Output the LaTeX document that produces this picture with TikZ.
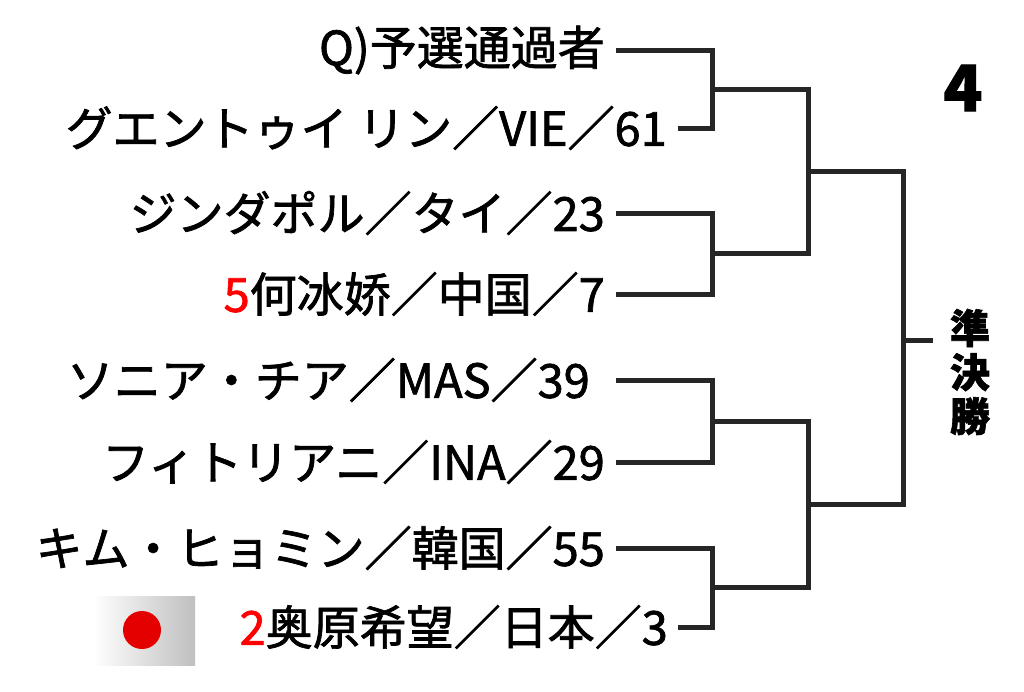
\documentclass[tikz,border=0pt]{standalone}
\usepackage{fontspec}
\setmainfont{Noto Sans CJK JP}[FakeBold=1.5]
\begin{document}
\begin{tikzpicture}[x=1pt,y=-1pt,
  br/.style={line width=5pt,color=black!85,line cap=rect},
  nm/.style={anchor=east,inner sep=0pt,font=\fontsize{47}{50}\selectfont}]
\useasboundingbox (0,0) rectangle (1024,691);
\fill[white] (0,0) rectangle (1024,691);
\node[nm] (p1) at (605,50) {Q)予選通過者};
\node[nm] (p2) at (667,128) {グエントゥイ リン／VIE／61};
\node[nm] (p3) at (605,213) {ジンダポル／タイ／23};
\node[nm] (p4) at (605,294) {\textcolor{red}{5}何冰娇／中国／7};
\node[nm] (p5) at (590,380) {ソニア・チア／MAS／39};
\node[nm] (p6) at (605,462) {フィトリアニ／INA／29};
\node[nm] (p7) at (605,548) {キム・ヒョミン／韓国／55};
\node[nm] (p8) at (668,627) {\textcolor{red}{2}奥原希望／日本／3};
\shade[left color=white,right color=black!25] (93,596) rectangle (195,665);
\fill[red!90!black] (142,630) circle (19);
\node[font=\fontsize{64}{66}\selectfont\bfseries] (four) at (963,88) {4};
\node[font=\fontsize{40}{44}\selectfont\bfseries,align=center,inner sep=0pt] (sf) at (970,372) {準\\決\\勝};
\draw[br] (618,50) -- (712,50) -- (712,128) -- (680,128);
\draw[br] (618,213) -- (712,213) -- (712,294) -- (618,294);
\draw[br] (618,380) -- (712,380) -- (712,462) -- (618,462);
\draw[br] (618,548) -- (712,548) -- (712,627) -- (680,627);
\draw[br] (712,89) -- (808,89) -- (808,253) -- (712,253);
\draw[br] (712,421) -- (808,421) -- (808,587) -- (712,587);
\draw[br] (808,171) -- (903,171) -- (903,504) -- (808,504);
\draw[br] (903,340) -- (930,340);
\end{tikzpicture}
\end{document}
